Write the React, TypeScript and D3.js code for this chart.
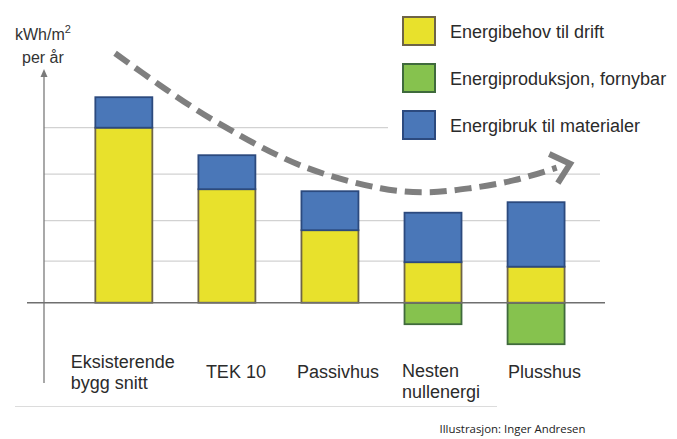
import React from "react";
import * as d3 from "d3";

// Building categories (multi-line labels)
const categories: string[][] = [
  ["Eksisterende", "bygg snitt"],
  ["TEK 10"],
  ["Passivhus"],
  ["Nesten", "nullenergi"],
  ["Plusshus"],
];

// kWh/m² per år (relative units, no axis numbers are shown)
const drift = [350, 227, 145, 81, 72]; // Energibehov til drift
const materialer = [61, 68, 78, 99, 129]; // Energibruk til materialer
const produksjon = [0, 0, 0, -43, -83]; // Energiproduksjon, fornybar

// Horizontal guide lines (value units)
const gridValues = [83, 164, 257, 350];

// Trend arrow: [category index, value]
const trend: [number, number][] = [
  [-0.085, 499],
  [0.35, 435],
  [0.87, 365],
  [1.71, 275],
  [2.49, 229],
  [2.94, 221],
  [3.36, 229],
  [3.79, 245],
  [4.2, 270],
];

const legendItems = [
  { label: "Energibehov til drift", fill: "#e8e12c", stroke: "#6e6447" },
  { label: "Energiproduksjon, fornybar", fill: "#86c24e", stroke: "#3f6a3c" },
  { label: "Energibruk til materialer", fill: "#4a77b8", stroke: "#2c4a7e" },
];

const W = 677;
const H = 439;
const FONT = "'Liberation Sans', Arial, sans-serif";

export default function App() {
  const keys = categories.map((c) => c.join(" "));
  const x = d3
    .scaleBand<string>()
    .domain(keys)
    .range([72.3, 587.6])
    .paddingInner(0.447)
    .paddingOuter(0.2235);
  const y = d3.scaleLinear().domain([0, 350]).range([302.7, 127.7]);
  const step = x.step();
  const cx = (i: number) => (x(keys[0]) as number) + x.bandwidth() / 2 + i * step;

  const trendLine = d3
    .line<[number, number]>()
    .x((d) => cx(d[0]))
    .y((d) => y(d[1]))
    .curve(d3.curveCatmullRom.alpha(0.5));

  // arrowhead at end of trend
  const last = trend[trend.length - 1];
  const prev = trend[trend.length - 2];
  const tx = cx(last[0]);
  const ty = y(last[1]);
  const ang = Math.atan2(ty - y(prev[1]), tx - cx(prev[0]));
  const tipX = tx + 14 * Math.cos(ang);
  const tipY = ty + 14 * Math.sin(ang);
  const arm = 23;
  const a1 = ang + Math.PI - 0.72;
  const a2 = ang + Math.PI + 0.72;

  const labelDx = [-53, -21, -33, -31, -28];
  const yellow = legendItems[0];
  const green = legendItems[1];
  const blue = legendItems[2];

  return (
    <svg
      width={W}
      height={H}
      style={{ position: "absolute", left: 0, top: 0, background: "#fff" }}
      fontFamily={FONT}
    >
      <rect width={W} height={H} fill="#fff" />

      {/* guide lines */}
      {gridValues.map((v, i) => (
        <line
          key={i}
          x1={44}
          x2={v >= 350 ? 388 : 600}
          y1={y(v)}
          y2={y(v)}
          stroke="#d2d2d2"
          strokeWidth={1.3}
        />
      ))}

      {/* y axis with arrow */}
      <line x1={44} x2={44} y1={383} y2={75} stroke="#7a7a7a" strokeWidth={1.3} />
      <path d="M44,69 L40.5,77 L47.5,77 Z" fill="#7a7a7a" />

      {/* stacked bars */}
      {keys.map((k, i) => {
        const bx = x(k) as number;
        const bw = x.bandwidth();
        const segs = [] as React.ReactNode[];
        if (produksjon[i] < 0) {
          segs.push(
            <rect
              key="g"
              x={bx}
              y={y(0)}
              width={bw}
              height={y(produksjon[i]) - y(0)}
              fill={green.fill}
              stroke={green.stroke}
              strokeWidth={1.8}
            />
          );
        }
        segs.push(
          <rect
            key="y"
            x={bx}
            y={y(drift[i])}
            width={bw}
            height={y(0) - y(drift[i])}
            fill={yellow.fill}
            stroke={yellow.stroke}
            strokeWidth={1.8}
          />
        );
        segs.push(
          <rect
            key="b"
            x={bx}
            y={y(drift[i] + materialer[i])}
            width={bw}
            height={y(drift[i]) - y(drift[i] + materialer[i])}
            fill={blue.fill}
            stroke={blue.stroke}
            strokeWidth={1.8}
          />
        );
        return <g key={k}>{segs}</g>;
      })}

      {/* zero line */}
      <line x1={27} x2={605} y1={y(0)} y2={y(0)} stroke="#6f6f6f" strokeWidth={1.4} />

      {/* trend arrow */}
      <path
        d={trendLine(trend) || ""}
        fill="none"
        stroke="#7f7f7f"
        strokeWidth={6}
        strokeDasharray="17 8"
      />
      <polyline
        points={`${tipX + arm * Math.cos(a1)},${tipY + arm * Math.sin(a1)} ${tipX},${tipY} ${
          tipX + arm * Math.cos(a2)
        },${tipY + arm * Math.sin(a2)}`}
        fill="none"
        stroke="#7f7f7f"
        strokeWidth={6}
        strokeLinejoin="miter"
      />

      {/* y axis title */}
      <text x={15} y={40} fontSize={16} fill="#333">
        kWh/m
        <tspan fontSize={11} dy={-7}>
          2
        </tspan>
      </text>
      <text x={22} y={63} fontSize={16} fill="#333">
        per år
      </text>

      {/* category labels */}
      {categories.map((lines, i) => {
        const left = cx(i) + labelDx[i];
        const top = lines.length > 1 ? (i === 0 ? 368 : 377) : 378;
        return (
          <text key={i} x={left} y={top} fontSize={18} fill="#2b2b2b">
            {lines.map((l, j) => (
              <tspan key={j} x={left} dy={j === 0 ? 0 : 21}>
                {l}
              </tspan>
            ))}
          </text>
        );
      })}

      {/* legend */}
      {legendItems.map((it, i) => (
        <g key={it.label} transform={`translate(403,${17 + i * 47})`}>
          <rect x={0} y={0} width={32} height={28} fill={it.fill} stroke={it.stroke} strokeWidth={2} />
          <text x={47} y={20.5} fontSize={18} fill="#2b2b2b">
            {it.label}
          </text>
        </g>
      ))}

      {/* bottom separator and credit */}
      <line x1={15} x2={497} y1={406.5} y2={406.5} stroke="#dcdcdc" strokeWidth={1.2} />
      <text
        x={439.5}
        y={433}
        fontSize={11.5}
        fontFamily="'Open Sans', sans-serif"
        fill="#222"
        textLength={146}
        lengthAdjust="spacingAndGlyphs"
      >
        Illustrasjon: Inger Andresen
      </text>
    </svg>
  );
}
